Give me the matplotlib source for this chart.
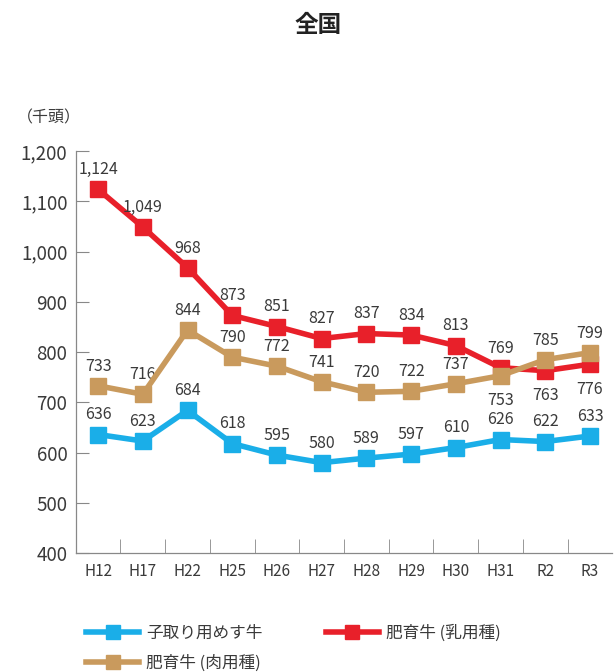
import numpy as np
import matplotlib
matplotlib.use('Agg')
import matplotlib.pyplot as plt

plt.rcParams['font.family'] = ['Noto Sans CJK JP', 'DejaVu Sans']

# data
years = ['H12', 'H17', 'H22', 'H25', 'H26', 'H27', 'H28', 'H29', 'H30', 'H31', 'R2', 'R3']
kotori = [636, 623, 684, 618, 595, 580, 589, 597, 610, 626, 622, 633]
nyuyo = [1124, 1049, 968, 873, 851, 827, 837, 834, 813, 769, 763, 776]
nikuyo = [733, 716, 844, 790, 772, 741, 720, 722, 737, 753, 785, 799]
names = ['子取り用めす牛', '肥育牛 (乳用種)', '肥育牛 (肉用種)']
colors = ['#1aaee8', '#e8202a', '#c99a5d']

# labels placed below the marker
below = {1: [10, 11], 2: [9]}

fig = plt.figure(figsize=(6.16, 6.72), dpi=100)
ax = fig.add_axes([0.123, 0.177, 0.871, 0.598])
x = np.arange(len(years))

series = [kotori, nyuyo, nikuyo]
handles = []
for i, (vals, c) in enumerate(zip(series, colors)):
    h, = ax.plot(x, vals, color=c, lw=4, marker='s', ms=12, zorder=5 if i == 2 else 3)
    handles.append(h)
    for j, v in enumerate(vals):
        if j in below.get(i, []):
            ax.annotate(f'{v:,}', (j, v), xytext=(0, -12), textcoords='offset points',
                        ha='center', va='top', fontsize=11.5, color='#3a3a3a')
        else:
            ax.annotate(f'{v:,}', (j, v), xytext=(0, 8), textcoords='offset points',
                        ha='center', va='bottom', fontsize=11.5, color='#3a3a3a')

ax.set_xlim(-0.5, len(years) - 0.5)
ax.set_ylim(400, 1200)
ax.set_yticks(np.arange(400, 1201, 100))
ax.set_yticklabels([f'{v:,}' for v in range(400, 1201, 100)], fontsize=13.5, color='#3a3a3a')
ax.set_xticks(x)
ax.set_xticklabels(years, fontsize=11, color='#3a3a3a')
ax.tick_params(axis='x', length=0, pad=7)
ax.set_xticks(np.arange(0.5, len(years) - 0.5), minor=True)
ax.tick_params(axis='x', which='minor', direction='in', length=10, color='#888888')
ax.tick_params(axis='y', direction='in', length=9, color='#888888', pad=6)
for s in ['top', 'right']:
    ax.spines[s].set_visible(False)
for s in ['left', 'bottom']:
    ax.spines[s].set_color('#888888')
    ax.spines[s].set_linewidth(0.9)

fig.text(0.516, 0.963, '全国', ha='center', va='center', fontsize=17, fontweight='bold', color='#222222')
fig.text(0.028, 0.824, '（千頭）', ha='left', va='center', fontsize=11.5, color='#3a3a3a')

# legend: row-major order blue, red / tan
order = [0, 2, 1]
leg = fig.legend([handles[k] for k in order], [names[k] for k in order], loc='upper left',
                 bbox_to_anchor=(0.115, 0.093), ncol=2, frameon=False, fontsize=12,
                 handlelength=3.2, markerscale=0.8, columnspacing=3.8,
                 handletextpad=0.4, labelspacing=0.75)
for t in leg.get_texts():
    t.set_color('#3a3a3a')

fig.savefig('out.png', dpi=100)
